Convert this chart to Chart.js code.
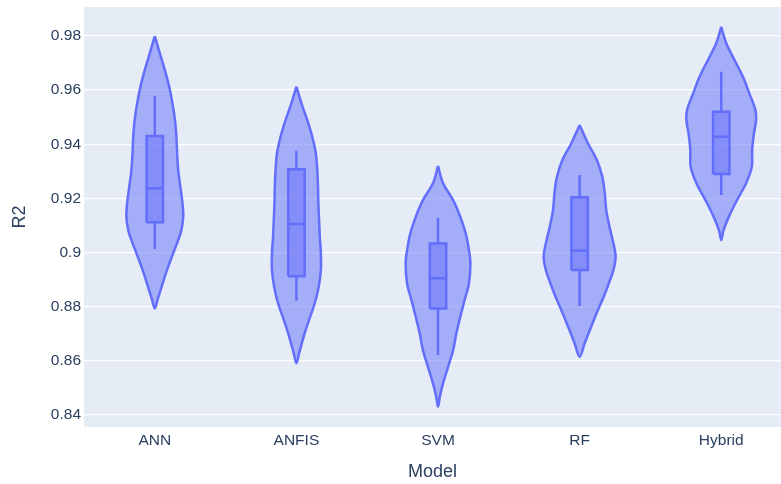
<!DOCTYPE html>
<html lang="en">
<head>
    <meta charset="UTF-8">
    <title>R2 by model</title>
    <script src="https://cdn.jsdelivr.net/npm/chart.js"></script>
    <style>
        html, body {
            margin: 0;
            padding: 0;
            background: #fff;
            overflow: hidden;
        }
        canvas {
            display: block;
        }
    </style>
</head>
<body>
    <canvas id="violin" width="781" height="484"></canvas>

    <script>
        const models = ["ANN", "ANFIS", "SVM", "RF", "Hybrid"];
        const yTicks = [0.84, 0.86, 0.88, 0.9, 0.92, 0.94, 0.96, 0.98];
        const yTickLabels = ["0.84", "0.86", "0.88", "0.9", "0.92", "0.94", "0.96", "0.98"];

        // box stats
        const whiskerLow = [0.9012, 0.8822, 0.8622, 0.8803, 0.9213];
        const q1 = [0.9112, 0.8913, 0.8794, 0.8936, 0.9290];
        const median = [0.9237, 0.9106, 0.8905, 0.9007, 0.9428];
        const q3 = [0.9431, 0.9308, 0.9034, 0.9204, 0.9520];
        const whiskerHigh = [0.9578, 0.9376, 0.9129, 0.9287, 0.9668];

        // violin outlines: R2 level and relative density, top to bottom
        const annLevels = [0.980, 0.9736, 0.9674, 0.9613, 0.9551, 0.9490, 0.9428, 0.9367, 0.9305, 0.9243, 0.9182, 0.9133, 0.9083, 0.9046, 0.8997, 0.8936, 0.8874, 0.8825, 0.8794];
        const annDensity = [0, 0.14, 0.28, 0.40, 0.49, 0.56, 0.60, 0.62, 0.65, 0.71, 0.77, 0.79, 0.74, 0.65, 0.51, 0.34, 0.19, 0.075, 0];
        const anfisLevels = [0.9613, 0.9551, 0.9490, 0.9428, 0.9367, 0.9305, 0.9243, 0.9182, 0.9120, 0.9059, 0.8997, 0.8936, 0.8874, 0.8813, 0.8751, 0.8689, 0.8628, 0.8591];
        const anfisDensity = [0, 0.14, 0.30, 0.44, 0.54, 0.58, 0.60, 0.61, 0.63, 0.65, 0.68, 0.68, 0.62, 0.51, 0.35, 0.20, 0.075, 0];
        const svmLevels = [0.9320, 0.9256, 0.9194, 0.9132, 0.9071, 0.9009, 0.8960, 0.8886, 0.8825, 0.8763, 0.8702, 0.8640, 0.8578, 0.8517, 0.8468, 0.8431];
        const svmDensity = [0, 0.14, 0.42, 0.62, 0.77, 0.86, 0.90, 0.86, 0.74, 0.62, 0.51, 0.42, 0.28, 0.14, 0.05, 0];
        const rfLevels = [0.9471, 0.9404, 0.9342, 0.9280, 0.9219, 0.9157, 0.9096, 0.9034, 0.8985, 0.8936, 0.8886, 0.8837, 0.8788, 0.8726, 0.8665, 0.8615];
        const rfDensity = [0, 0.23, 0.48, 0.63, 0.70, 0.74, 0.83, 0.94, 1, 0.94, 0.81, 0.67, 0.51, 0.32, 0.14, 0];
        const hybridLevels = [0.9834, 0.9773, 0.9711, 0.9650, 0.9588, 0.9527, 0.9490, 0.9441, 0.9379, 0.9317, 0.9256, 0.9194, 0.9132, 0.9083, 0.9046];
        const hybridDensity = [0, 0.14, 0.37, 0.60, 0.78, 0.95, 0.97, 0.91, 0.86, 0.85, 0.69, 0.44, 0.21, 0.064, 0];

        const levels = [annLevels, anfisLevels, svmLevels, rfLevels, hybridLevels];
        const densities = [annDensity, anfisDensity, svmDensity, rfDensity, hybridDensity];

        const violinHalf = 0.254;  // half width of density 1, in category units
        const boxHalf = 0.058;
        const lineColor = "#636efa";
        const fillColor = "rgba(99,110,250,0.5)";
        const textColor = "#2a3f5f";
        const fontFamily = "'Liberation Sans', Arial, sans-serif";

        const datasets = [];

        models.forEach((m, i) => {
            const lv = levels[i], dn = densities[i];
            const outline = [];
            for (let k = 0; k < lv.length; k++) outline.push({ x: i + dn[k] * violinHalf, y: lv[k] });
            for (let k = lv.length - 2; k >= 0; k--) outline.push({ x: i - dn[k] * violinHalf, y: lv[k] });
            datasets.push({
                label: m,
                data: outline,
                borderColor: lineColor,
                backgroundColor: fillColor,
                borderWidth: 2.5,
                fill: "shape",
                tension: 0.35,
                pointRadius: 0,
                order: 3
            });

            datasets.push({
                label: m + " whiskers",
                data: [
                    { x: i, y: whiskerLow[i] }, { x: i, y: q1[i] }, { x: i, y: null },
                    { x: i, y: q3[i] }, { x: i, y: whiskerHigh[i] }
                ],
                borderColor: lineColor,
                borderWidth: 2.5,
                spanGaps: false,
                fill: false,
                pointRadius: 0,
                order: 2
            });

            datasets.push({
                label: m + " box",
                data: [
                    { x: i - boxHalf, y: q1[i] }, { x: i + boxHalf, y: q1[i] },
                    { x: i + boxHalf, y: q3[i] }, { x: i - boxHalf, y: q3[i] },
                    { x: i - boxHalf, y: q1[i] }
                ],
                borderColor: lineColor,
                backgroundColor: fillColor,
                borderWidth: 2.5,
                fill: "shape",
                tension: 0,
                pointRadius: 0,
                order: 1
            });

            datasets.push({
                label: m + " median",
                data: [{ x: i - boxHalf, y: median[i] }, { x: i + boxHalf, y: median[i] }],
                borderColor: lineColor,
                borderWidth: 2.5,
                fill: false,
                pointRadius: 0,
                order: 0
            });
        });

        const plotBackground = {
            id: "plotBackground",
            beforeDraw(chart) {
                const { ctx, chartArea: a } = chart;
                ctx.save();
                ctx.fillStyle = "#E5ECF6";
                ctx.fillRect(a.left, a.top, a.right - a.left, a.bottom - a.top);
                ctx.restore();
            }
        };

        new Chart(document.getElementById("violin").getContext("2d"), {
            type: "line",
            data: { datasets: datasets },
            plugins: [plotBackground],
            options: {
                responsive: false,
                animation: false,
                devicePixelRatio: 1,
                layout: { padding: { top: 7, right: 0, left: 0, bottom: 0 } },
                plugins: {
                    legend: { display: false },
                    tooltip: { enabled: false }
                },
                scales: {
                    x: {
                        type: "linear",
                        min: -0.5,
                        max: 4.422,
                        afterBuildTicks: s => { s.ticks = models.map((m, i) => ({ value: i })); },
                        afterFit: s => { s.height = 57; s.paddingLeft = 0; s.paddingRight = 0; },
                        grid: { display: false, drawTicks: false },
                        border: { display: false },
                        ticks: {
                            padding: 4,
                            color: textColor,
                            font: { family: fontFamily, size: 15.5 },
                            callback: v => models[v]
                        },
                        title: {
                            display: true,
                            text: "Model",
                            color: textColor,
                            font: { family: fontFamily, size: 18 },
                            padding: { top: 4, bottom: 1 }
                        }
                    },
                    y: {
                        type: "linear",
                        min: 0.8356,
                        max: 0.9907,
                        afterBuildTicks: s => { s.ticks = yTicks.map(v => ({ value: v })); },
                        afterFit: s => { s.width = 84; s.paddingTop = 0; s.paddingBottom = 0; },
                        grid: { color: "#ffffff", lineWidth: 1.3, drawTicks: false },
                        border: { display: false },
                        ticks: {
                            padding: 3,
                            color: textColor,
                            font: { family: fontFamily, size: 15.5 },
                            callback: (v, idx) => yTickLabels[idx]
                        },
                        title: {
                            display: true,
                            text: "R2",
                            color: textColor,
                            font: { family: fontFamily, size: 18 },
                            padding: { top: 9, bottom: 4 }
                        }
                    }
                }
            }
        });
    </script>
</body>
</html>
